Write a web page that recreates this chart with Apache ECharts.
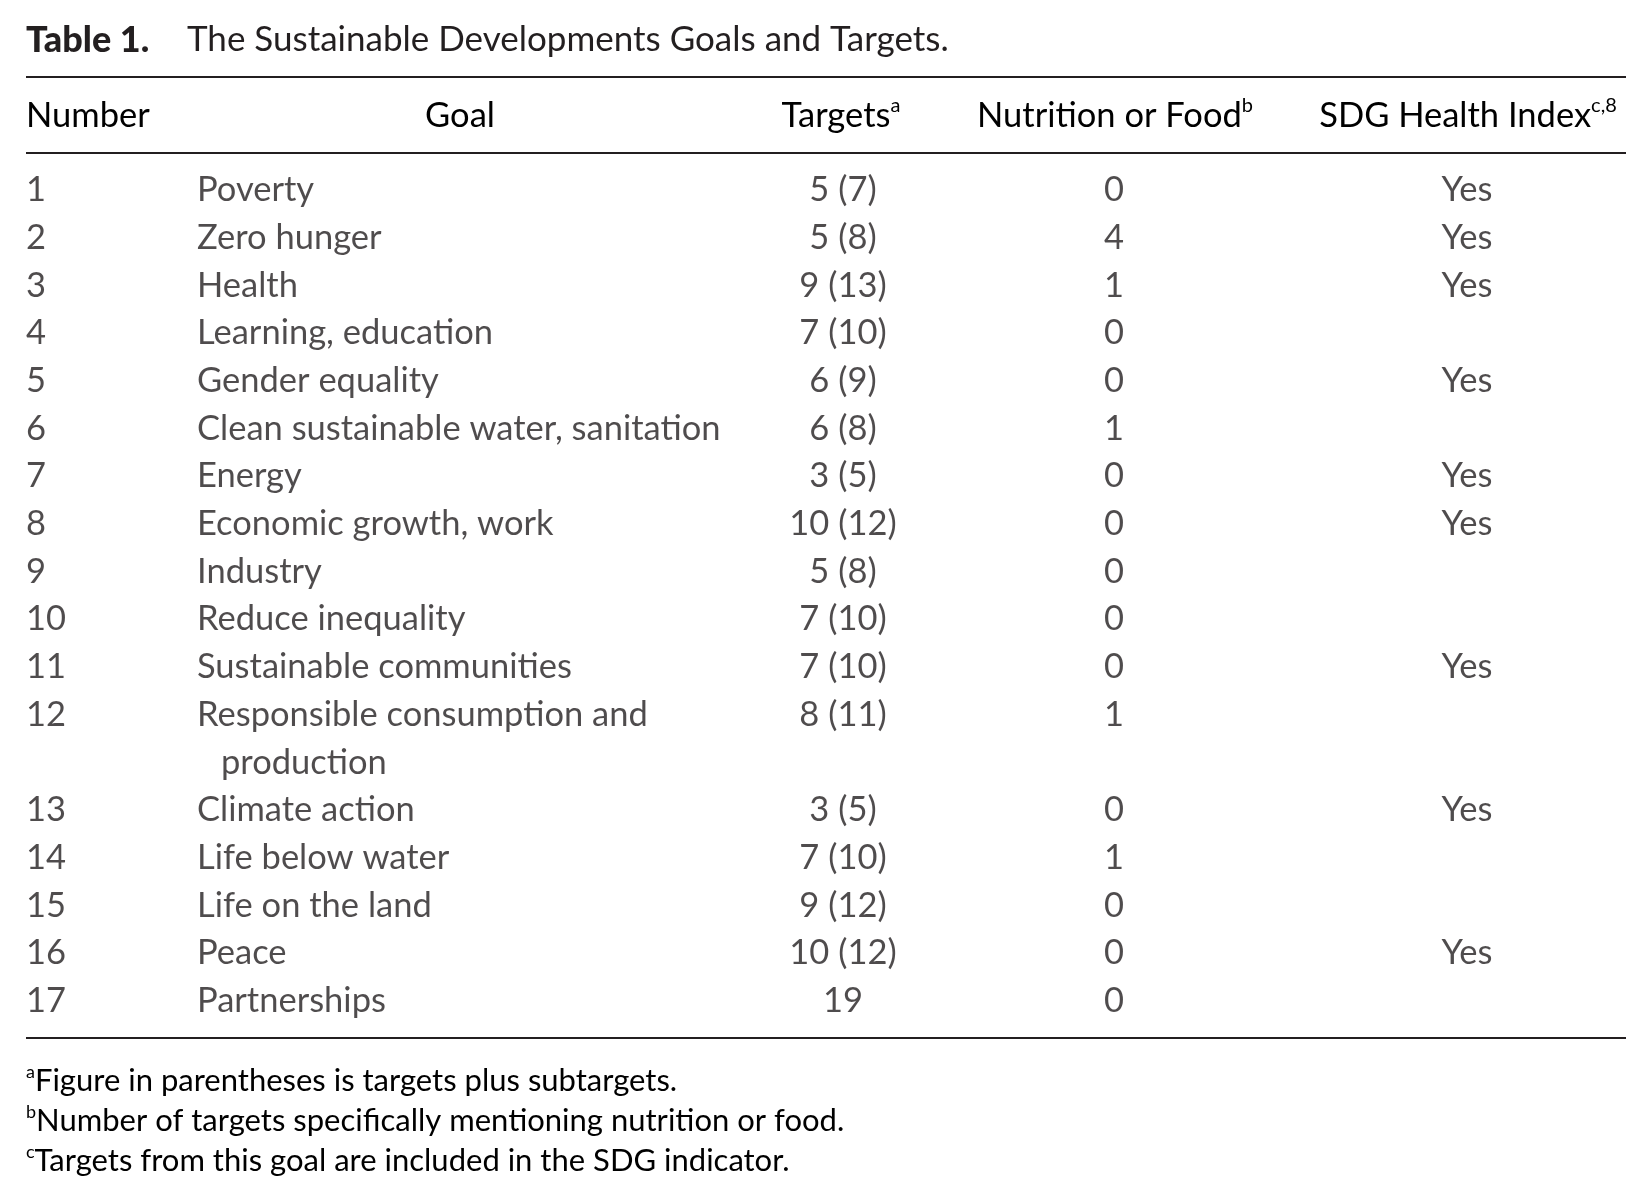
<!DOCTYPE html>
<html><head><meta charset="utf-8">
<script src="https://cdn.jsdelivr.net/npm/echarts@6/dist/echarts.min.js"></script>
<style>html,body{margin:0;padding:0;background:#fff}#c{width:1651px;height:1202px}</style>
</head><body><div id="c"></div>
<script>
// ---- data ----
const titleBold = 'Table 1.';
const titleText = 'The Sustainable Developments Goals and Targets.';
const headers = ['Number', 'Goal', 'Targets', 'Nutrition or Food', 'SDG Health Index'];
const headerNotes = ['', '', 'a', 'b', 'c,8'];
const numbers = ['1','2','3','4','5','6','7','8','9','10','11','12','13','14','15','16','17'];
const goals = ['Poverty','Zero hunger','Health','Learning, education','Gender equality',
  'Clean sustainable water, sanitation','Energy','Economic growth, work','Industry',
  'Reduce inequality','Sustainable communities','Responsible consumption and\nproduction',
  'Climate action','Life below water','Life on the land','Peace','Partnerships'];
const targets = ['5 (7)','5 (8)','9 (13)','7 (10)','6 (9)','6 (8)','3 (5)','10 (12)','5 (8)',
  '7 (10)','7 (10)','8 (11)','3 (5)','7 (10)','9 (12)','10 (12)','19'];
const nutritionFood = [0,4,1,0,0,1,0,0,0,0,0,1,0,1,0,0,0];
const sdgHealthIndex = ['Yes','Yes','Yes','','Yes','','Yes','Yes','','','Yes','','Yes','','','Yes',''];
const footnoteMarks = ['a','b','c'];
const footnoteTexts = ['Figure in parentheses is targets plus subtargets.',
  'Number of targets specifically mentioning nutrition or food.',
  'Targets from this goal are included in the SDG indicator.'];

// ---- layout / style ----
const FONT = 'Lato';
const FS = 34.5;
const INK = '#231f20';
const W = 1651;
const L = 26, R = 1626;            // table left/right edge
const gridTop = 190, gridBottom = 1001;
const colAnchor = [0, 171, 817, 1088, 1441];   // x on value axis (grid-relative px)
const colAlign = ['left', 'left', 'center', 'center', 'center'];
const contIndent = 24;

// Build row slots (wrapped goals take extra slots)
const slotCats = [];
const cells = [[], [], [], [], [], []]; // 5 cols + continuation
goals.forEach((g, i) => {
  const lines = g.split('\n');
  const s = slotCats.length;
  slotCats.push('r' + i);
  cells[0].push([colAnchor[0], s, numbers[i]]);
  cells[1].push([colAnchor[1], s, lines[0]]);
  cells[2].push([colAnchor[2], s, targets[i]]);
  cells[3].push([colAnchor[3], s, String(nutritionFood[i])]);
  if (sdgHealthIndex[i]) cells[4].push([colAnchor[4], s, sdgHealthIndex[i]]);
  for (let k = 1; k < lines.length; k++) {
    const sk = slotCats.length;
    slotCats.push('r' + i + '_' + k);
    cells[5].push([colAnchor[1], sk, lines[k]]);
  }
});

const series = cells.map((d, ci) => ({
  type: 'scatter',
  symbolSize: 0,
  silent: true,
  data: d,
  label: {
    show: true,
    position: 'inside',
    offset: [ci === 5 ? contIndent : 0, 0],
    align: ci === 5 ? 'left' : colAlign[ci],
    verticalAlign: 'middle',
    formatter: p => p.value[2],
    fontFamily: FONT, fontSize: FS, color: INK
  }
}));

const headerY = 116;
const headerX = [L, 460, 841, 1115, 1468];
const headerAlign = ['left', 'center', 'center', 'center', 'center'];
const supRich = {
  m: { fontFamily: FONT, fontSize: FS, color: INK, lineHeight: 40 },
  s: { fontFamily: FONT, fontSize: 20, color: INK, lineHeight: 24, verticalAlign: 'top' }
};

const graphics = [];
// title
graphics.push({
  type: 'text', x: L, y: 40,
  style: { text: titleBold, fontFamily: FONT, fontWeight: 900, fontSize: 36, fill: INK,
    align: 'left', verticalAlign: 'middle' }
});
graphics.push({
  type: 'text', x: 187, y: 40,
  style: { text: titleText, fontFamily: FONT, fontSize: 35, fill: INK,
    align: 'left', verticalAlign: 'middle' }
});
// rules
[[77, 2], [153, 2], [1038, 2]].forEach(([y, w]) => {
  graphics.push({ type: 'line', shape: { x1: L, y1: y, x2: R, y2: y },
    style: { stroke: INK, lineWidth: w } });
});
// headers
headers.forEach((h, i) => {
  graphics.push({
    type: 'text', x: headerX[i], y: headerY,
    style: {
      text: '{m|' + h + '}' + (headerNotes[i] ? '{s|' + headerNotes[i] + '}' : ''),
      rich: supRich, align: headerAlign[i], verticalAlign: 'middle'
    }
  });
});
// footnotes
const fnY = [1081, 1121, 1161];
footnoteTexts.forEach((t, i) => {
  graphics.push({
    type: 'text', x: L, y: fnY[i],
    style: {
      text: '{s|' + footnoteMarks[i] + '}{m|' + t + '}',
      rich: {
        m: { fontFamily: FONT, fontSize: 31, color: INK, lineHeight: 36 },
        s: { fontFamily: FONT, fontSize: 18, color: INK, lineHeight: 22, verticalAlign: 'top' }
      },
      align: 'left', verticalAlign: 'middle'
    }
  });
});

const chart = echarts.init(document.getElementById('c'), null, { renderer: 'canvas' });
chart.setOption({
  backgroundColor: '#fff',
  animation: false,
  grid: { left: L, right: W - R, top: gridTop, bottom: 1202 - gridBottom },
  xAxis: { type: 'value', min: 0, max: R - L, show: false },
  yAxis: { type: 'category', data: slotCats, inverse: true, boundaryGap: false, show: false },
  series: series,
  graphic: graphics
});
</script>
</body></html>
